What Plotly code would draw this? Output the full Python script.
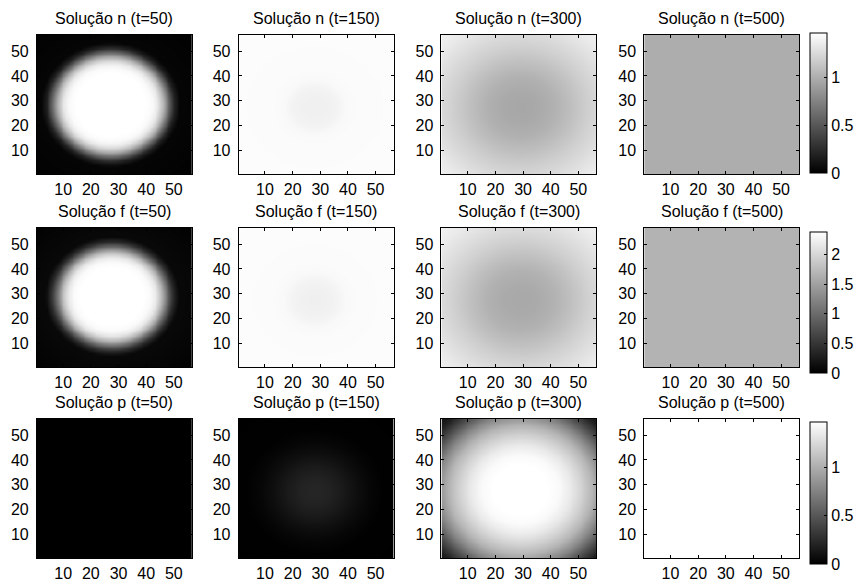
import numpy as np
import plotly.graph_objects as go

# ---- labels -------------------------------------------------------------
species = ["n", "f", "p"]
times = [50, 150, 300, 500]
axis_ticks = [10, 20, 30, 40, 50]
grid_size = 56

# colour limits per row (n, f, p)
row_cmax = [1.47, 2.38, 1.47]
colorbar_ticks_n = [0, 0.5, 1]
colorbar_ticks_f = [0, 0.5, 1, 1.5, 2]
colorbar_ticks_p = [0, 0.5, 1]

# ---- radial profiles of each field: (radius, level) ---------------------
# n
n_t50_center = (27, 28.5)
n_t50_radius = [0, 12.5, 15, 17, 19, 21, 23, 25, 45]
n_t50_level = [1.47, 1.47, 1.44, 1.33, 1.05, 0.60, 0.20, 0.03, 0.0]

n_t150_center = (28, 27.5)
n_t150_radius = [0, 4, 8, 11, 15, 25, 45]
n_t150_level = [1.38, 1.385, 1.40, 1.435, 1.445, 1.45, 1.455]

n_t300_center = (29, 27.5)
n_t300_radius = [0, 6, 12, 18, 24, 30, 36, 42]
n_t300_level = [0.96, 0.975, 1.02, 1.10, 1.19, 1.27, 1.35, 1.40]

n_t500_center = (28.5, 28.5)
n_t500_radius = [0, 45]
n_t500_level = [1.0, 1.0]

# f
f_t50_center = (27.5, 29)
f_t50_radius = [0, 11.5, 14, 16, 18, 20, 22, 24, 45]
f_t50_level = [2.38, 2.38, 2.33, 2.15, 1.70, 1.00, 0.40, 0.08, 0.0]

f_t150_center = (28, 27.5)
f_t150_radius = [0, 4, 8, 11, 15, 25, 45]
f_t150_level = [2.23, 2.24, 2.27, 2.32, 2.34, 2.35, 2.36]

f_t300_center = (29, 27.5)
f_t300_radius = [0, 6, 12, 18, 24, 30, 36, 42]
f_t300_level = [1.57, 1.59, 1.66, 1.79, 1.94, 2.07, 2.19, 2.27]

f_t500_center = (28.5, 28.5)
f_t500_radius = [0, 45]
f_t500_level = [1.67, 1.67]

# p
p_t50_center = (28.5, 28.5)
p_t50_radius = [0, 45]
p_t50_level = [0.0, 0.0]

p_t150_center = (28, 27.5)
p_t150_radius = [0, 5, 10, 15, 20, 25, 45]
p_t150_level = [0.22, 0.20, 0.15, 0.086, 0.035, 0.006, 0.0]

p_t300_center = (29, 28)
p_t300_radius = [0, 10, 14, 18, 22, 26, 30, 34, 38, 44]
p_t300_level = [1.47, 1.47, 1.44, 1.35, 1.21, 1.04, 0.78, 0.46, 0.17, 0.03]

p_t500_center = (28.5, 28.5)
p_t500_radius = [0, 45]
p_t500_level = [1.47, 1.47]

profiles = [
    [(n_t50_center, n_t50_radius, n_t50_level),
     (n_t150_center, n_t150_radius, n_t150_level),
     (n_t300_center, n_t300_radius, n_t300_level),
     (n_t500_center, n_t500_radius, n_t500_level)],
    [(f_t50_center, f_t50_radius, f_t50_level),
     (f_t150_center, f_t150_radius, f_t150_level),
     (f_t300_center, f_t300_radius, f_t300_level),
     (f_t500_center, f_t500_radius, f_t500_level)],
    [(p_t50_center, p_t50_radius, p_t50_level),
     (p_t150_center, p_t150_radius, p_t150_level),
     (p_t300_center, p_t300_radius, p_t300_level),
     (p_t500_center, p_t500_radius, p_t500_level)],
]
colorbar_ticks = [colorbar_ticks_n, colorbar_ticks_f, colorbar_ticks_p]

# ---- page geometry (pixels) ---------------------------------------------
W, H = 857, 582
col_px = [(37, 192), (239, 394), (442, 597), (645, 800)]
row_px = [(35, 174), (228, 367), (419, 558)]
cbar_px = [(33, 173), (232, 373), (422, 564)]
cbar_left, cbar_width = 810, 17

FONT = "Liberation Sans, Arial, Helvetica, sans-serif"
FS = 16
gray = [[0, "rgb(0,0,0)"], [1, "rgb(255,255,255)"]]

coords = np.arange(1, grid_size + 1)
X, Y = np.meshgrid(coords, coords)


def field(center, radius, level):
    d = np.hypot(X - center[0], Y - center[1])
    return np.interp(d, radius, level)


fig = go.Figure()
layout = dict(
    width=W, height=H,
    margin=dict(l=0, r=0, t=0, b=0),
    paper_bgcolor="white", plot_bgcolor="white",
    showlegend=False,
    font=dict(family=FONT, size=FS, color="black"),
)
annotations = []

for r, sp in enumerate(species):
    for c, t in enumerate(times):
        idx = r * 4 + c + 1
        sfx = "" if idx == 1 else str(idx)
        center, radius, level = profiles[r][c]
        z = field(center, radius, level)
        fig.add_trace(go.Heatmap(
            x=coords, y=coords, z=z,
            coloraxis="coloraxis" if r == 0 else f"coloraxis{r + 1}",
            zsmooth="best",
            xaxis="x" + sfx, yaxis="y" + sfx,
            hoverinfo="skip",
        ))
        x0, x1 = col_px[c]
        y0, y1 = row_px[r]
        common = dict(
            showgrid=False, zeroline=False,
            showline=True, linecolor="black", linewidth=1, mirror="allticks",
            ticks="inside", ticklen=3, tickcolor="black", tickwidth=1,
            tickvals=axis_ticks, range=[0.5, grid_size + 0.5],
            tickfont=dict(family=FONT, size=FS, color="black"),
            fixedrange=True,
        )
        layout["xaxis" + sfx] = dict(common, domain=[x0 / W, x1 / W],
                                     anchor="y" + sfx, ticklabelstandoff=1)
        layout["yaxis" + sfx] = dict(common, domain=[1 - y1 / H, 1 - y0 / H],
                                     anchor="x" + sfx, ticklabelstandoff=4)
        annotations.append(dict(
            text=f"Solução {sp} (t={t})",
            x=(x0 + x1) / 2 / W, y=1 - (y0 - 17) / H,
            xref="paper", yref="paper",
            xanchor="center", yanchor="middle",
            showarrow=False,
            font=dict(family=FONT, size=FS, color="black"),
        ))

    cb0, cb1 = cbar_px[r]
    key = "coloraxis" if r == 0 else f"coloraxis{r + 1}"
    layout[key] = dict(
        colorscale=gray, cmin=0, cmax=row_cmax[r],
        colorbar=dict(
            x=cbar_left / W, xanchor="left", xpad=0, ypad=0,
            y=1 - (cb0 + cb1) / 2 / H, yanchor="middle",
            len=cb1 - cb0, lenmode="pixels",
            thickness=cbar_width, thicknessmode="pixels",
            outlinewidth=1, outlinecolor="black",
            ticks="inside", ticklen=3, tickcolor="black",
            tickvals=colorbar_ticks[r],
            tickfont=dict(family=FONT, size=FS, color="black"),
        ),
    )

layout["annotations"] = annotations
fig.update_layout(**layout)
fig.write_html("out.html")
